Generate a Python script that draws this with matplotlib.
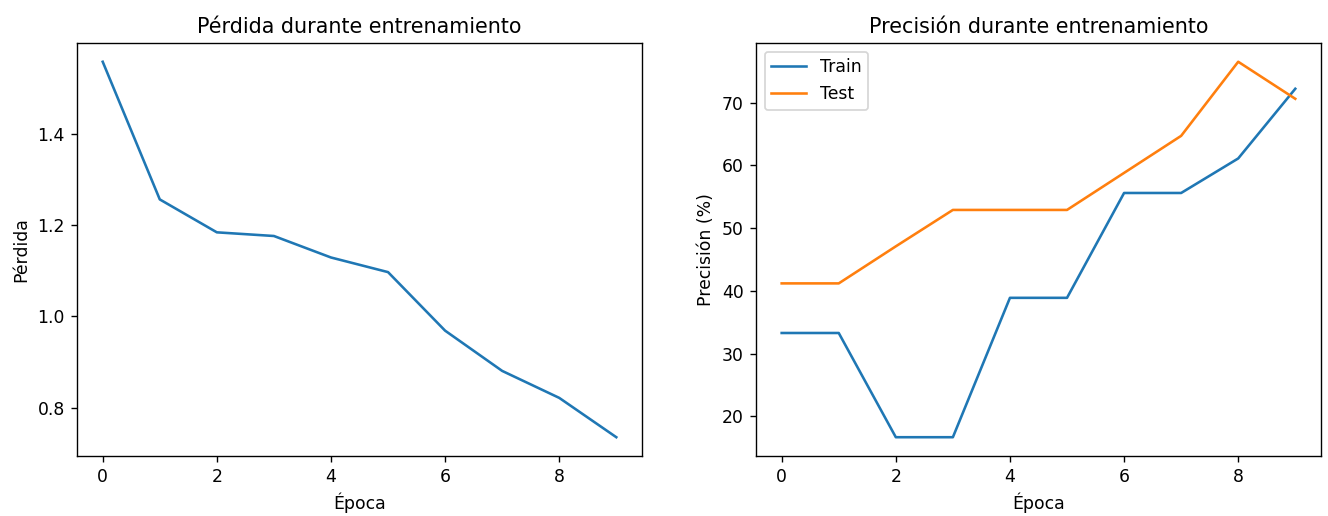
import matplotlib
matplotlib.use("Agg")
import matplotlib.pyplot as plt

epocas = list(range(10))
perdida = [1.557, 1.256, 1.184, 1.176, 1.129, 1.097, 0.969, 0.881, 0.822, 0.736]
prec_train = [33.3, 33.3, 16.7, 16.7, 38.9, 38.9, 55.6, 55.6, 61.1, 72.2]
prec_test = [41.2, 41.2, 47.1, 52.9, 52.9, 52.9, 58.8, 64.7, 76.5, 70.6]

fig, (ax1, ax2) = plt.subplots(1, 2, figsize=(1328 / 124, 516 / 124), dpi=124)

ax1.plot(epocas, perdida)
ax1.set_title("Pérdida durante entrenamiento")
ax1.set_xlabel("Época")
ax1.set_ylabel("Pérdida")

ax2.plot(epocas, prec_train, label="Train")
ax2.plot(epocas, prec_test, label="Test")
ax2.set_title("Precisión durante entrenamiento")
ax2.set_xlabel("Época")
ax2.set_ylabel("Precisión (%)")
ax2.legend(loc="upper left")

plt.subplots_adjust(left=0.058, right=0.9947, top=0.9167, bottom=0.1163, wspace=0.2018)
plt.savefig("out.png")
